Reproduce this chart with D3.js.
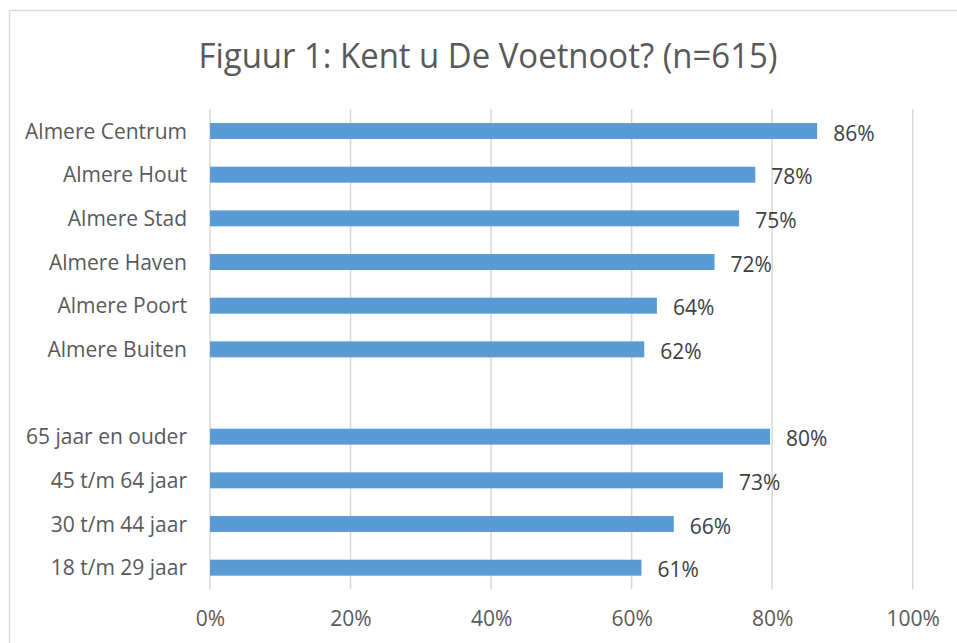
<!DOCTYPE html>
<html>
<head>
<meta charset="utf-8">
<script src="https://cdn.jsdelivr.net/npm/d3@7"></script>
<style>
  body { margin: 0; background: #fff; }
  text { font-family: "Open Sans", sans-serif; }
</style>
</head>
<body>
<div id="chart"></div>
<script>
var width = 957;
var height = 643;

// data
var regions = ['Almere Centrum', 'Almere Hout', 'Almere Stad', 'Almere Haven', 'Almere Poort', 'Almere Buiten'];
var regionValues = [86.4, 77.6, 75.3, 71.8, 63.6, 61.8];
var ages = ['65 jaar en ouder', '45 t/m 64 jaar', '30 t/m 44 jaar', '18 t/m 29 jaar'];
var ageValues = [79.7, 73.0, 66.0, 61.4];
var ticks = [0, 20, 40, 60, 80, 100];
var title = 'Figuur 1: Kent u De Voetnoot? (n=615)';

window.onload = start;

function start() {
  var data = regions.map(function (d, i) { return { name: d, value: regionValues[i] }; })
    .concat(ages.map(function (d, i) { return { name: d, value: ageValues[i] }; }));
  // empty slot between the two groups
  var categories = regions.concat([' ']).concat(ages);

  var chart = d3.select('#chart')
    .append('svg')
    .attr('width', width)
    .attr('height', height);

  // chart border
  chart.append('rect')
    .attr('x', 9.5)
    .attr('y', 10.5)
    .attr('width', 960)
    .attr('height', 640)
    .attr('fill', 'none')
    .attr('stroke', '#d9d9d9')
    .attr('stroke-width', 1.5);

  chart.append('text')
    .attr('x', 488)
    .attr('y', 68)
    .attr('text-anchor', 'middle')
    .attr('fill', '#595959')
    .style('font-size', '34.5px')
    .attr('textLength', 579)
    .attr('lengthAdjust', 'spacingAndGlyphs')
    .text(title);

  var xScale = d3.scaleLinear().domain([0, 100]).range([210, 912.7]);
  var yScale = d3.scaleBand().domain(categories).range([109.2, 589.5]).paddingInner(0.634).paddingOuter(0.317);

  // gridlines
  chart.append('g')
    .selectAll('line')
    .data(ticks)
    .enter()
    .append('line')
    .attr('x1', function (d) { return xScale(d); })
    .attr('x2', function (d) { return xScale(d); })
    .attr('y1', 109)
    .attr('y2', 589)
    .attr('stroke', '#d9d9d9')
    .attr('stroke-width', 1.5);

  // x axis labels
  var xAxis = d3.axisBottom(xScale)
    .tickValues(ticks)
    .tickSize(0)
    .tickPadding(22)
    .tickFormat(function (d) { return d + '%'; });
  var gx = chart.append('g')
    .attr('transform', 'translate(0,589)')
    .call(xAxis);
  gx.select('.domain').remove();
  gx.selectAll('text')
    .attr('fill', '#595959')
    .style('font-size', '21px')
    .style('font-family', '"Open Sans", sans-serif');

  // y axis labels
  var yAxis = d3.axisLeft(yScale).tickSize(0).tickPadding(23);
  var gy = chart.append('g')
    .attr('transform', 'translate(210,0)')
    .call(yAxis);
  gy.select('.domain').remove();
  gy.selectAll('text')
    .attr('fill', '#595959')
    .attr('dy', '0.36em')
    .style('font-size', '21px')
    .style('font-family', '"Open Sans", sans-serif');

  // bars
  chart.append('g')
    .selectAll('rect')
    .data(data)
    .enter()
    .append('rect')
    .attr('x', xScale(0))
    .attr('y', function (d) { return yScale(d.name); })
    .attr('width', function (d) { return xScale(d.value) - xScale(0); })
    .attr('height', yScale.bandwidth())
    .attr('fill', '#5b9bd5');

  // value labels
  chart.append('g')
    .selectAll('text')
    .data(data)
    .enter()
    .append('text')
    .attr('x', function (d) { return xScale(d.value) + 16; })
    .attr('y', function (d) { return yScale(d.name) + yScale.bandwidth() / 2 + 2; })
    .attr('dy', '0.36em')
    .attr('fill', '#404040')
    .style('font-size', '21px')
    .text(function (d) { return Math.round(d.value) + '%'; });
}
</script>
</body>
</html>
